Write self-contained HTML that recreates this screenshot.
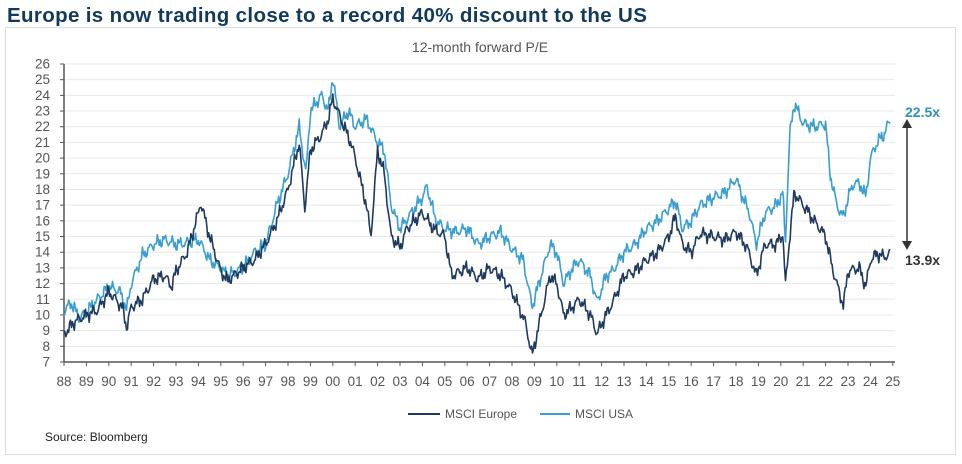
<!DOCTYPE html>
<html><head><meta charset="utf-8"><style>
body{margin:0;background:#fff;width:962px;height:459px;overflow:hidden;font-family:"Liberation Sans",sans-serif}
</style></head><body>
<svg id="s" width="962" height="459" xmlns="http://www.w3.org/2000/svg" font-family="Liberation Sans, sans-serif">
<rect x="5.5" y="27.5" width="950" height="427" fill="#fff" stroke="#d8dde2"/>
<text x="7" y="22" font-size="20.5" font-weight="bold" fill="#123a5c" letter-spacing="0.35">Europe is now trading close to a record 40% discount to the US</text>
<text x="480" y="52" font-size="14" fill="#555" text-anchor="middle">12-month forward P/E</text>
<g id="grid"></g>
<g id="lines"></g>
<line x1="907" y1="124" x2="907" y2="245" stroke="#333" stroke-width="1.5"/>
<polygon points="907,119 902,128 912,128" fill="#333"/>
<polygon points="907,250 902,241 912,241" fill="#333"/>
<text x="905" y="117" font-size="14" font-weight="bold" fill="#2f8fc4">22.5x</text>
<text x="905" y="265" font-size="14" font-weight="bold" fill="#333">13.9x</text>
<line x1="408" y1="414" x2="440" y2="414" stroke="#1f3a5f" stroke-width="2"/>
<text x="445" y="418" font-size="12" fill="#555">MSCI Europe</text>
<line x1="540" y1="414" x2="570" y2="414" stroke="#3a9fd0" stroke-width="2"/>
<text x="575" y="418" font-size="12" fill="#555">MSCI USA</text>
<text x="45" y="441" font-size="12" fill="#222">Source: Bloomberg</text>
</svg>
<script>
const x0=64,pxy=22.4,yTop=64,yBot=362;
const Y=v=>yBot-(v-7)*(yBot-yTop)/19, X=t=>x0+(t-1988)*pxy;
let g=document.getElementById('grid'),h='';
for(let v=7;v<=26;v++){let y=Y(v);
 if(v>7)h+=`<line x1="64" x2="895" y1="${y}" y2="${y}" stroke="#e6e9ec"/>`;
 h+=`<line x1="60" x2="64" y1="${y}" y2="${y}" stroke="#555"/>`;
 h+=`<text x="50" y="${y+4.5}" font-size="13.5" fill="#555" text-anchor="end">${v}</text>`;}
h+=`<line x1="64" x2="64" y1="${yTop}" y2="${yBot}" stroke="#555" stroke-width="1.5"/>`;
h+=`<line x1="64" x2="895" y1="${yBot}" y2="${yBot}" stroke="#555" stroke-width="1.5"/>`;
for(let i=0;i<=37;i++){let x=X(1988+i);let lab=String((88+i)%100).padStart(2,'0');
 h+=`<line x1="${x}" x2="${x}" y1="${yBot}" y2="${yBot+4}" stroke="#555"/>`;
 h+=`<text x="${x}" y="386" font-size="13.5" fill="#555" text-anchor="middle">${lab}</text>`;}
g.innerHTML=h;
function yr(a){return a.map(([t,v])=>[t<50?2000+t:1900+t,v]);}
const fix=a=>a.map(([t,v])=>[t>=100?t-100:t,v]);
const eu=yr(fix([[88,8.8],[88.5,9.6],[89,10],[89.5,10.3],[90,11.5],[90.6,10.5],[90.8,9.2],[91,10.5],[91.5,11],[92,12.3],[92.5,12.5],[92.8,11.8],[93,12.8],[93.5,14],[94,16.5],[94.1,17.2],[94.5,15],[95,12.8],[95.3,12.2],[96,13],[96.5,13.5],[97,14.5],[97.5,16],[98,18],[98.5,21],[98.75,16.8],[99,20.5],[99.5,21.5],[99.8,22.5],[100,23.8],[100.5,22],[100.8,21],[101,20],[101.5,17],[101.7,15],[102,20.5],[102.3,19],[102.6,15],[103,14.3],[103.3,15.5],[104,16.5],[104.5,15.5],[105,15],[105.3,12.5],[106,13],[106.5,12.3],[107,13],[107.5,12.5],[108,11.5],[108.6,9.5],[108.9,7.4],[109.3,10],[109.7,12.5],[110,12],[110.3,10],[110.7,10.5],[111,11],[111.5,10],[111.8,8.8],[112.2,10],[112.5,10.8],[113,12.5],[113.5,12.8],[114,13.5],[114.5,14],[115,15],[115.3,16.3],[115.6,14.5],[116,14],[116.4,15.2],[117,15],[117.5,14.8],[118,15.3],[118.5,14.3],[118.9,12.5],[119.3,14.5],[119.8,14.5],[120.1,15.2],[120.2,11.8],[120.4,15],[120.6,17.8],[121,17],[121.5,16],[122,15],[122.3,13],[122.6,11.5],[122.8,10.6],[123,12.8],[123.5,13],[123.8,11.8],[124,13.5],[124.3,13.9],[124.6,13.7],[124.9,13.9]]));
const us=yr(fix([[88,10.2],[88.3,10.8],[88.7,9.8],[89,10.2],[89.5,11],[90,11.8],[90.5,11.5],[90.8,10.3],[91,12],[91.5,13.8],[92,14.5],[92.5,14.8],[93,14.5],[93.5,14.6],[94,14.8],[94.5,13.5],[95,13],[95.3,12.5],[96,13],[96.5,14],[97,14.5],[97.5,17],[98,19],[98.5,22],[98.8,19],[99,23],[99.5,24],[99.8,23],[100,25.2],[100.3,22],[100.7,23],[101,22],[101.5,22.5],[102,21],[102.3,20.5],[102.6,17],[103,15.5],[103.5,16.5],[104,17.5],[104.2,18.2],[104.6,16],[105,15.5],[105.5,15.3],[106,15.5],[106.5,14.5],[107,15],[107.5,15.3],[108,14.2],[108.5,13.5],[108.9,10.5],[109.3,12.5],[109.7,14.5],[110,14],[110.3,12],[110.7,13],[111,13.5],[111.5,12.5],[111.8,10.8],[112.2,12.5],[112.5,12.8],[113,14],[113.5,14.5],[114,15.5],[114.5,16],[115,16.8],[115.3,17.3],[115.6,15.5],[116,16],[116.4,17],[117,17.5],[117.5,17.8],[118,18.7],[118.3,17.5],[118.6,16.5],[118.9,14.5],[119.3,16.5],[119.8,17],[120.1,17.8],[120.2,14.5],[120.4,21.5],[120.6,23.5],[121,22.2],[121.5,22],[122,22.2],[122.2,19],[122.5,17],[122.8,16.2],[123,17.5],[123.3,18.5],[123.6,18.2],[123.8,17.5],[124,20],[124.3,21],[124.6,21.5],[124.9,22.5]]));
function interp(p,t){for(let i=1;i<p.length;i++)if(t<=p[i][0]){let a=p[i-1],b=p[i];return a[1]+(b[1]-a[1])*(t-a[0])/(b[0]-a[0]);}return p[p.length-1][1];}
function path(p,seed,col){let d='';let n=0;
 for(let t=1988;t<=2024.9;t+=1/24){let v=interp(p,t)+0.3*Math.sin(t*71.3+seed)*Math.sin(t*23.7+seed*2)+0.25*Math.sin(t*131.9+seed*3);
  d+=(n++?'L':'M')+X(t).toFixed(1)+','+Y(v).toFixed(1);}
 return `<path d="${d}" fill="none" stroke="${col}" stroke-width="1.6" stroke-linejoin="round"/>`;}
document.getElementById('lines').innerHTML=path(us,1.3,'#3a9fd0')+path(eu,4.1,'#1f3a5f');
</script>
</body></html>
